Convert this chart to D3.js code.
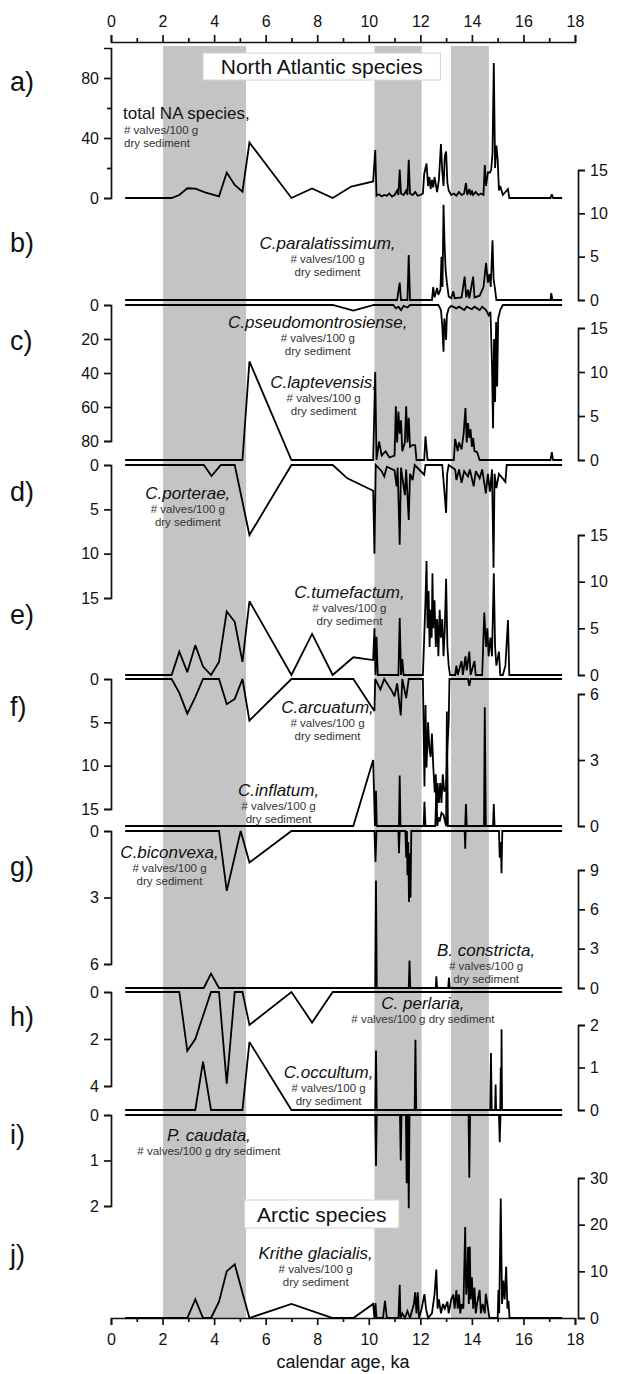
<!DOCTYPE html>
<html><head><meta charset="utf-8">
<script src="https://cdn.jsdelivr.net/npm/d3@7/dist/d3.min.js"></script>
<style>
body{margin:0;background:#fff}
svg{display:block;font-family:"Liberation Sans",Arial,Helvetica,sans-serif}
.axis path,.axis line{stroke:#111;stroke-width:1.7;fill:none}
.axis text{font-size:16px;fill:#111;font-family:"Liberation Sans",Arial,sans-serif}
</style></head><body>
<svg id="c" width="618" height="1374"></svg>
<script>
// ---------- DATA ----------
const ageMajorTicks = [0,2,4,6,8,10,12,14,16,18];
const ageMinorTicks = [1,3,5,7,9,11,13,15,17];
const bandStart = [2.02, 10.22, 13.19];
const bandEnd   = [5.24, 12.05, 14.66];

const totalNA = [[0.55,0],[2.35,0],[2.65,2],[2.96,6.5],[3.27,6.3],[3.65,3.8],[4.19,1.1],[4.49,17],[4.8,8.7],[5.1,4.2],[5.37,37],[7.0,0],[7.8,6.4],[8.6,0],[9.32,7.6],[10.17,11],[10.25,32],[10.3,1.5],[10.4,2.5],[10.5,1],[10.6,2],[10.7,1.5],[10.8,3],[10.9,1],[11.0,2],[11.1,5],[11.15,2],[11.2,19],[11.25,3],[11.35,2],[11.45,5],[11.5,2],[11.55,25.5],[11.6,3],[11.7,2],[11.8,4],[11.9,1.5],[12.0,2],[12.1,3],[12.15,16],[12.24,23],[12.3,8],[12.35,14],[12.4,6],[12.45,12],[12.5,7],[12.55,14],[12.6,9],[12.65,4],[12.72,12],[12.8,36],[12.85,18],[12.9,8],[12.95,28],[13.0,31],[13.05,10],[13.1,5],[13.2,2],[13.3,3],[13.4,1.5],[13.5,4],[13.6,2],[13.7,3],[13.77,10],[13.82,2],[13.9,6],[13.95,2],[14.0,5],[14.05,2],[14.15,4],[14.25,2],[14.35,3],[14.45,2],[14.5,22],[14.55,8],[14.62,17],[14.7,17],[14.75,19],[14.8,30],[14.85,90],[14.9,20],[14.95,35],[15.0,26],[15.05,5],[15.1,8],[15.2,2],[15.3,4],[15.4,6],[15.45,0],[17.05,0],[17.1,2.5],[17.15,0],[17.5,0]];

const paralatissimum = [[0.55,0],[11.1,0],[11.2,2.0],[11.25,0],[11.5,0],[11.55,5.2],[11.6,0],[12.45,0],[12.5,1.5],[12.55,0.3],[12.65,1.4],[12.7,0.6],[12.78,1.2],[12.82,5],[12.86,1.5],[12.9,11],[12.94,6.5],[12.98,3.5],[13.03,2],[13.1,0.4],[13.2,0.2],[13.28,1],[13.33,0.2],[13.6,0.3],[13.72,2.7],[13.78,0.3],[13.85,1.2],[13.9,0.2],[14.05,2.7],[14.1,0.3],[14.3,0.5],[14.45,1.5],[14.55,4.3],[14.62,2],[14.68,3],[14.73,1.5],[14.8,6.9],[14.84,2.5],[14.9,1.2],[14.95,0],[17.05,0],[17.08,0.8],[17.12,0],[17.5,0]];

const pseudomontrosiense = [[0.55,0],[8.6,0],[9.4,3.3],[10.2,0],[10.95,0],[11.05,2],[11.15,1],[11.25,3],[11.35,0.5],[11.5,1.5],[11.6,0],[12.7,0],[12.8,3],[12.85,12],[12.9,27.5],[12.93,8],[12.97,13],[13.0,20.6],[13.03,6],[13.1,2],[13.2,0.5],[13.4,2],[13.5,1],[13.7,3],[13.8,1],[14.0,2.5],[14.1,1],[14.3,3],[14.4,1],[14.55,3],[14.65,6],[14.72,4],[14.78,35],[14.82,72.5],[14.86,20],[14.9,57],[14.94,10],[14.98,48],[15.02,8],[15.1,3],[15.2,0],[17.5,0]];

const laptevensis = [[0.55,0],[5.1,0],[5.37,11.2],[7.0,0],[10.17,0],[10.25,10],[10.3,0],[10.4,2.1],[10.5,0.5],[10.65,1],[10.8,0.3],[11.0,0.5],[11.05,6.1],[11.1,2],[11.15,5.5],[11.2,3],[11.25,4.5],[11.3,1],[11.4,2],[11.45,6.1],[11.5,2],[11.55,4.8],[11.6,1.5],[11.7,1.7],[11.8,1.7],[11.85,0],[12.15,0],[12.2,2.7],[12.28,0],[13.3,0],[13.35,2.4],[13.45,1],[13.5,2],[13.6,1.2],[13.68,3],[13.75,5.9],[13.8,2],[13.85,4.2],[13.9,2.5],[13.95,3.5],[14.0,1.5],[14.05,2.5],[14.1,1],[14.2,0.9],[14.3,0],[17.05,0],[17.1,0.9],[17.15,0],[17.5,0]];

const porterae = [[0.55,0],[3.6,0],[3.9,1.24],[4.26,0],[4.8,0],[5.37,7.9],[7.0,0],[8.6,0],[9.17,1.5],[10.17,2.9],[10.22,10],[10.27,0],[10.5,0.7],[10.6,1.3],[10.7,0.2],[11.0,0.6],[11.08,2.4],[11.12,0.3],[11.2,9],[11.25,0.3],[11.4,3.4],[11.45,0.5],[11.55,6.2],[11.6,1],[11.7,1.7],[11.78,0],[12.15,1.1],[12.2,0],[12.85,0],[12.93,2.8],[13.0,5.4],[13.04,1],[13.1,0],[13.35,0.5],[13.4,1.7],[13.5,0.5],[13.6,2],[13.7,0.7],[13.85,1.3],[13.92,0.5],[14.07,2.4],[14.15,0.7],[14.3,1.5],[14.4,0.5],[14.54,3.2],[14.62,1],[14.7,3],[14.78,0.5],[14.84,11.6],[14.88,1],[14.95,2.6],[15.05,1],[15.3,1.9],[15.35,0],[17.5,0]];

const tumefactum = [[0.55,0],[2.35,0],[2.65,2.5],[2.96,0.3],[3.27,3.2],[3.57,0.9],[3.88,0],[4.19,1.4],[4.49,6.8],[4.8,5.7],[5.1,1.4],[5.37,7.9],[7.0,0],[7.8,4.4],[8.6,0],[9.4,1.9],[10.17,1.6],[10.22,5],[10.26,0],[10.3,4.1],[10.35,0],[11.15,0],[11.2,6.1],[11.25,0],[11.3,1.7],[11.35,0],[12.1,0],[12.15,4],[12.2,8],[12.24,12.2],[12.28,5],[12.32,9],[12.36,3],[12.4,7],[12.44,4],[12.47,10.9],[12.5,5],[12.55,8],[12.6,3],[12.65,6],[12.7,2],[12.75,7],[12.8,4],[12.85,6],[12.9,2],[12.95,5],[13.0,10.3],[13.05,3],[13.1,1],[13.15,0],[13.35,0],[13.4,1],[13.45,0],[13.6,1.5],[13.65,0],[13.75,2],[13.8,0.5],[13.9,2.5],[13.95,0],[14.1,1.5],[14.15,0],[14.4,0],[14.48,6.7],[14.55,3],[14.6,5],[14.65,2],[14.72,4],[14.78,2],[14.85,10.9],[14.9,3],[14.95,1],[15.05,2.5],[15.1,0],[15.2,0],[15.3,1],[15.4,5.9],[15.45,0],[17.5,0]];

const arcuatum = [[0.55,0],[2.35,0],[2.65,1.6],[2.96,4.0],[3.27,2.1],[3.57,0],[4.19,0],[4.49,2.9],[4.8,2.3],[5.1,0],[5.37,4.8],[7.0,0],[9.4,0],[10.17,3.5],[10.22,3.7],[10.25,0],[10.45,1.2],[10.6,0],[10.9,1.4],[11.0,2.0],[11.1,0.5],[11.24,4.2],[11.3,0],[11.45,2.2],[11.55,0],[12.1,0],[12.16,12.4],[12.2,3],[12.24,10.2],[12.3,5],[12.35,8],[12.4,9],[12.45,6.3],[12.5,10],[12.56,13.1],[12.6,11],[12.63,15],[12.67,12],[12.72,14.3],[12.77,12],[12.82,14.3],[12.87,11],[12.93,13],[13.0,12.5],[13.05,8],[13.1,5],[13.13,0],[13.85,0],[13.9,0.8],[13.95,0],[17.5,0]];

const inflatum = [[0.55,0],[9.4,0],[10.17,3.0],[10.24,0],[10.28,1.6],[10.31,0],[11.17,0],[11.2,2.3],[11.23,0],[12.13,0],[12.16,1.1],[12.2,0],[12.58,0],[12.62,1.6],[12.66,0],[12.7,0.4],[12.75,0.2],[12.82,0.6],[12.9,0.5],[13.0,0],[13.03,5.2],[13.07,0],[13.74,0],[13.77,1.0],[13.8,0],[14.47,0],[14.5,5.4],[14.54,0],[14.82,0],[14.85,1.0],[14.88,0],[17.5,0]];

const biconvexa = [[0.55,0],[4.19,0],[4.49,2.7],[5.03,0],[5.37,1.42],[7.0,0],[10.22,0],[10.26,1.4],[10.3,0],[11.15,0],[11.17,1.0],[11.2,0],[11.42,0],[11.45,1.2],[11.48,0],[11.5,2.0],[11.53,0.5],[11.56,3.2],[11.59,1],[11.62,3.0],[11.65,0],[13.72,0],[13.74,0.8],[13.76,0],[15.05,0],[15.08,1.2],[15.12,0.5],[15.15,1.9],[15.18,0],[17.5,0]];

const constricta = [[0.55,0],[3.6,0],[3.88,1.1],[4.19,0],[10.25,0],[10.28,8.2],[10.31,0],[11.55,0],[11.58,2.1],[11.61,0],[12.6,0],[12.62,0.9],[12.65,0],[13.08,0],[13.11,0.8],[13.14,0],[17.5,0]];

const perlaria = [[0.55,0],[2.65,0],[2.96,2.5],[3.27,2.0],[3.88,0],[4.19,0],[4.49,3.9],[4.8,0],[5.1,0],[5.37,1.4],[7.0,0],[7.8,1.3],[8.6,0],[17.5,0]];

const occultum = [[0.55,0],[3.27,0],[3.57,1.14],[3.88,0],[5.1,0],[5.37,1.6],[7.0,0],[10.25,0],[10.28,1.4],[10.31,0],[11.78,0],[11.81,1.65],[11.84,0],[14.71,0],[14.74,1.34],[14.77,0],[14.9,0],[14.92,0.6],[14.94,0],[15.1,0],[15.12,1.0],[15.14,0],[15.15,1.9],[15.17,0],[17.5,0]];

const caudata = [[0.55,0],[10.25,0],[10.28,1.12],[10.31,0],[11.21,0],[11.24,1.0],[11.27,0],[11.44,0],[11.47,1.5],[11.5,0],[11.52,0],[11.55,2.05],[11.58,0],[13.87,0],[13.9,1.38],[13.93,0],[15.05,0],[15.08,0.6],[15.11,0],[17.5,0]];

const krithe = [[0.55,0],[2.96,0],[3.27,4.0],[3.57,0],[3.88,0],[4.19,3.5],[4.49,10],[4.8,11.5],[5.37,0],[7.0,3.0],[8.6,0],[9.4,0],[10.17,3.0],[10.22,0],[10.26,3.2],[10.3,0],[10.55,0],[10.63,3.7],[10.7,0],[11.15,0],[11.2,7.1],[11.23,0],[11.3,1],[11.4,0],[11.5,1.5],[11.6,0],[11.75,3],[11.8,5.5],[11.85,1],[11.9,5.5],[11.95,0],[12.05,2],[12.16,5.1],[12.22,2],[12.3,0],[12.45,1],[12.55,5],[12.62,10.4],[12.67,2],[12.72,4],[12.8,1],[12.88,3],[12.95,2],[13.05,3.5],[13.1,1],[13.2,4],[13.28,5],[13.33,2],[13.4,6],[13.45,2],[13.5,5],[13.55,1],[13.6,3],[13.67,2],[13.74,19.5],[13.78,5],[13.82,8],[13.85,15.2],[13.88,3],[13.92,15.3],[13.95,4],[14.0,8.7],[14.05,2],[14.1,6.5],[14.15,1],[14.2,3],[14.3,6],[14.35,1],[14.42,3],[14.5,1],[14.54,5.2],[14.6,3],[14.68,0],[15.0,0],[15.03,6],[15.06,1],[15.12,25.6],[15.17,3],[15.22,8],[15.27,4],[15.33,11],[15.38,2],[15.42,3.7],[15.46,0],[17.5,0]];

// ---------- LAYOUT ----------
const svg = d3.select('#c');
const x = d3.scaleLinear().domain([0,18]).range([111,575]);
const LEFT_X = 111, RIGHT_X = 578;
const TOP_Y = 42, BOTTOM_Y = 1318, BAND_TOP = 46;

const panels = [
  {data: totalNA, side:'left',  y0:198, y1:48,  max:100, ticks:[0,40,80], minor:[20,60]},
  {data: paralatissimum, side:'right', y0:300, y1:170, max:15, ticks:[0,5,10,15]},
  {data: pseudomontrosiense, side:'left', y0:305, y1:441, max:80, ticks:[0,20,40,60,80]},
  {data: laptevensis, side:'right', y0:460, y1:328, max:15, ticks:[0,5,10,15]},
  {data: porterae, side:'left', y0:465, y1:598, max:15, ticks:[0,5,10,15]},
  {data: tumefactum, side:'right', y0:675, y1:535, max:15, ticks:[0,5,10,15]},
  {data: arcuatum, side:'left', y0:679, y1:809, max:15, ticks:[0,5,10,15]},
  {data: inflatum, side:'right', y0:826, y1:694, max:6, ticks:[0,3,6]},
  {data: biconvexa, side:'left', y0:831, y1:964, max:6, ticks:[0,3,6]},
  {data: constricta, side:'right', y0:988, y1:870, max:9, ticks:[0,3,6,9]},
  {data: perlaria, side:'left', y0:992, y1:1086, max:4, ticks:[0,2,4]},
  {data: occultum, side:'right', y0:1110, y1:1025, max:2, ticks:[0,1,2]},
  {data: caudata, side:'left', y0:1115, y1:1206, max:2, ticks:[0,1,2]},
  {data: krithe, side:'right', y0:1318, y1:1178, max:30, ticks:[0,10,20,30]}
];

// bands
svg.append('g').selectAll('rect').data(bandStart).join('rect')
  .attr('x', d=>x(d)).attr('width',(d,i)=>x(bandEnd[i])-x(d))
  .attr('y', BAND_TOP).attr('height', BOTTOM_Y-BAND_TOP)
  .attr('fill','#c4c4c4');

// title boxes
function titleBox(txt, a0, a1, yTop, h, fs){
  svg.append('rect').attr('x',x(a0)).attr('y',yTop).attr('width',x(a1)-x(a0)).attr('height',h)
    .attr('fill','#fff').attr('stroke','#d4d4d4').attr('stroke-width',1);
  svg.append('text').attr('x',(x(a0)+x(a1))/2).attr('y',yTop+h/2+fs*0.36)
    .attr('text-anchor','middle').attr('font-size',fs).attr('fill','#111').text(txt);
}
titleBox('North Atlantic species', 3.57, 12.78, 53, 27, 21);
titleBox('Arctic species', 5.18, 11.17, 1200, 28, 21);

// top & bottom axes
svg.append('g').attr('class','axis').attr('transform',`translate(0,${TOP_Y})`)
  .call(d3.axisTop(x).tickValues(ageMajorTicks).tickSize(7).tickSizeOuter(7).tickPadding(8).tickFormat(d3.format('d')));
svg.append('g').attr('class','axis').attr('transform',`translate(0,${TOP_Y})`)
  .call(d3.axisTop(x).tickValues(ageMinorTicks).tickSize(4).tickSizeOuter(0).tickFormat(''))
  .select('.domain').remove();
svg.append('g').attr('class','axis').attr('transform',`translate(0,${BOTTOM_Y})`)
  .call(d3.axisBottom(x).tickValues(ageMajorTicks).tickSize(7).tickSizeOuter(7).tickPadding(9).tickFormat(d3.format('d')));
svg.append('g').attr('class','axis').attr('transform',`translate(0,${BOTTOM_Y})`)
  .call(d3.axisBottom(x).tickValues(ageMinorTicks).tickSize(4).tickSizeOuter(0).tickFormat(''))
  .select('.domain').remove();
svg.append('text').attr('x',(x(0)+x(18))/2).attr('y',1368).attr('text-anchor','middle')
  .attr('font-size',18).attr('fill','#111').text('calendar age, ka');

// panels
const line = d3.line();
panels.forEach(p=>{
  const y = d3.scaleLinear().domain([0,p.max]).range([p.y0,p.y1]);
  const mk = p.side==='left'? d3.axisLeft: d3.axisRight;
  const tx = p.side==='left'?LEFT_X:RIGHT_X;
  svg.append('g').attr('class','axis').attr('transform',`translate(${tx},0)`)
    .call(mk(y).tickValues(p.ticks).tickSize(7).tickSizeOuter(7).tickPadding(5).tickFormat(d3.format('d')));
  if(p.minor){
    svg.append('g').attr('class','axis').attr('transform',`translate(${tx},0)`)
      .call(mk(y).tickValues(p.minor).tickSize(4).tickSizeOuter(0).tickFormat(''))
      .select('.domain').remove();
  }
  svg.append('path').attr('d', line(p.data.map(d=>[x(d[0]), y(d[1])])))
    .attr('fill','none').attr('stroke','#000').attr('stroke-width',1.8)
    .attr('stroke-linejoin','miter').attr('stroke-miterlimit',3);
});

// panel letters
const letters = ['a)','b)','c)','d)','e)','f)','g)','h)','i)','j)'];
const letterY = [82,243,341,492,615,707,867,1017,1135,1255];
svg.append('g').selectAll('text').data(letters).join('text')
  .attr('x',10).attr('y',(d,i)=>letterY[i]+9).attr('font-size',27).attr('fill','#111').text(d=>d);

// species labels
const labels = [
  {name:'C.paralatissimum,', a:8.4, y:243, sub:['# valves/100 g','dry sediment']},
  {name:'C.pseudomontrosiense,', a:8.02, y:322, sub:['# valves/100 g','dry sediment']},
  {name:'C.laptevensis,', a:8.25, y:382, sub:['# valves/100 g','dry sediment']},
  {name:'C.porterae,', a:2.98, y:493, sub:['# valves/100 g','dry sediment']},
  {name:'C.tumefactum,', a:9.25, y:592, sub:['# valves/100 g','dry sediment']},
  {name:'C.arcuatum,', a:8.4, y:707, sub:['# valves/100 g','dry sediment']},
  {name:'C.inflatum,', a:6.5, y:790, sub:['# valves/100 g','dry sediment']},
  {name:'C.biconvexa,', a:2.27, y:852, sub:['# valves/100 g','dry sediment']},
  {name:'B. constricta,', a:14.55, y:950, sub:['# valves/100 g','dry sediment']},
  {name:'C. perlaria,', a:12.1, y:1003, sub:['# valves/100 g dry sediment']},
  {name:'C.occultum,', a:8.44, y:1072, sub:['# valves/100 g','dry sediment']},
  {name:'P. caudata,', a:3.8, y:1135, sub:['# valves/100 g dry sediment']},
  {name:'Krithe glacialis,', a:7.94, y:1253, sub:['# valves/100 g','dry sediment']}
];
labels.forEach(l=>{
  const g = svg.append('g');
  g.append('text').attr('x',x(l.a)).attr('y',l.y+6).attr('text-anchor','middle')
    .attr('font-size',17).attr('font-style','italic').attr('fill','#111').text(l.name);
  l.sub.forEach((s,i)=>{
    g.append('text').attr('x',x(l.a)).attr('y',l.y+20+i*12.5).attr('text-anchor','middle')
      .attr('font-size',11.5).attr('fill','#333').text(s);
  });
});
svg.append('text').attr('x',123).attr('y',119).attr('font-size',17).attr('fill','#111').text('total NA species,');
svg.append('text').attr('x',124).attr('y',134).attr('font-size',11.5).attr('fill','#333').text('# valves/100 g');
svg.append('text').attr('x',124).attr('y',146.5).attr('font-size',11.5).attr('fill','#333').text('dry sediment');
</script></body></html>
